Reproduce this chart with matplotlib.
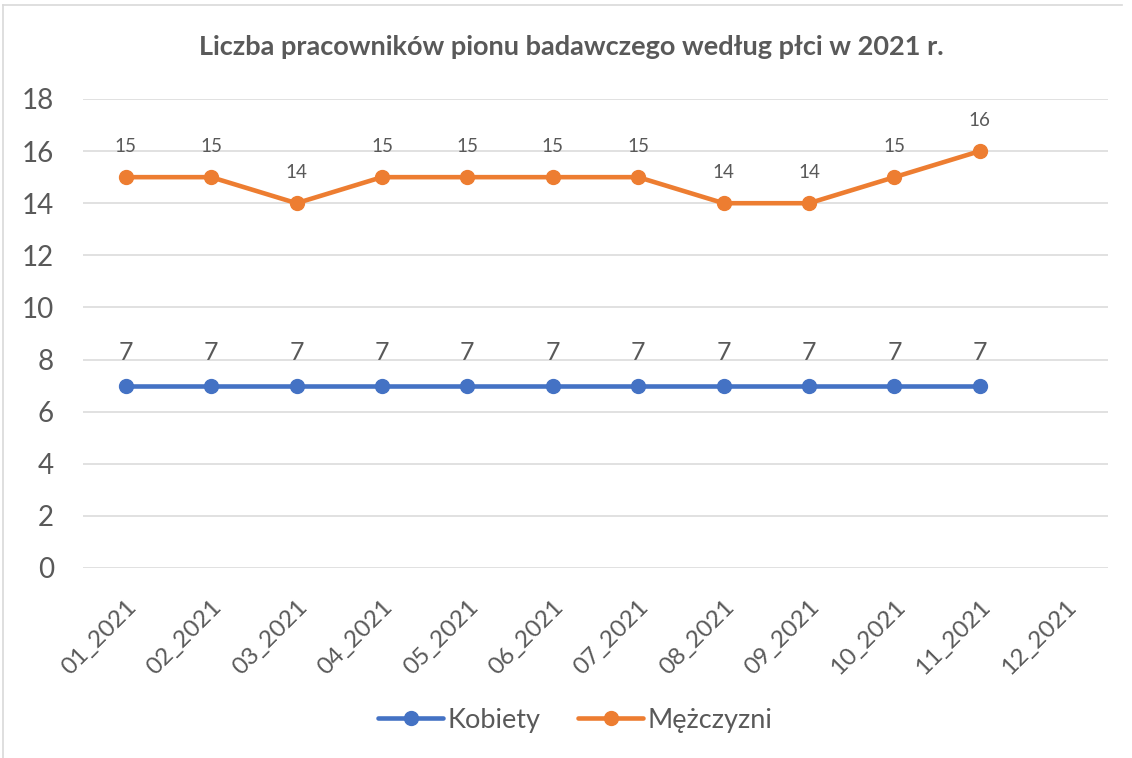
import matplotlib
matplotlib.use("Agg")
import matplotlib.pyplot as plt
from matplotlib.lines import Line2D

months = ["01_2021", "02_2021", "03_2021", "04_2021", "05_2021", "06_2021",
          "07_2021", "08_2021", "09_2021", "10_2021", "11_2021", "12_2021"]
kobiety = [7, 7, 7, 7, 7, 7, 7, 7, 7, 7, 7]
mezczyzni = [15, 15, 14, 15, 15, 15, 15, 14, 14, 15, 16]

BLUE = "#4472C4"
ORANGE = "#ED7D31"
GREY = "#595959"

plt.rcParams['font.family'] = ['Lato', 'DejaVu Sans']

fig = plt.figure(figsize=(11.32, 7.58), dpi=100)
ax = fig.add_axes([0.0733, 0.2507, 0.9055, 0.6187])

x = list(range(len(months)))
ax.plot(x[:len(kobiety)], kobiety, color=BLUE, lw=3.3, marker='o', ms=10,
        solid_capstyle='round', label="Kobiety", zorder=3)
ax.plot(x[:len(mezczyzni)], mezczyzni, color=ORANGE, lw=3.3, marker='o', ms=10,
        solid_capstyle='round', label="Mężczyzni", zorder=3)

for xi, v in zip(x, kobiety):
    ax.annotate(str(v), (xi, v), xytext=(0, 24), textcoords='offset points',
                ha='center', va='center', fontsize=18, color=GREY)
for xi, v in zip(x, mezczyzni):
    ax.annotate(str(v), (xi, v), xytext=(0, 22), textcoords='offset points',
                ha='center', va='center', fontsize=13.5, color=GREY)

ax.set_xlim(-0.5, len(months) - 0.5)
ax.set_ylim(0, 18)
ax.set_yticks(range(0, 19, 2))
ax.set_xticks(x)
ax.set_xticklabels(months, rotation=45, ha='right', rotation_mode='anchor')
ax.tick_params(axis='both', length=0, colors=GREY)
ax.tick_params(axis='y', labelsize=20, pad=21)
ax.tick_params(axis='x', labelsize=17.5, pad=20)
ax.grid(axis='y', color="#D9D9D9", lw=1.1)
ax.set_axisbelow(True)
for s in ax.spines.values():
    s.set_visible(False)

fig.text(0.505, 0.938, "Liczba pracowników pionu badawczego według płci w 2021 r.",
         ha='center', va='center', fontsize=19.5, fontweight='bold', color=GREY)

leg = fig.legend(loc='center', bbox_to_anchor=(0.508, 0.05), ncol=2,
                 frameon=False, fontsize=19.5, handlelength=2.4,
                 handletextpad=0.15, columnspacing=1.4)
for t in leg.get_texts():
    t.set_color(GREY)

# chart border (left and top visible)
fig.add_artist(Line2D([0.003, 0.003], [0, 0.994], transform=fig.transFigure,
                      color="#D9D9D9", lw=1.2))
fig.add_artist(Line2D([0.003, 0.991], [0.994, 0.994], transform=fig.transFigure,
                      color="#D9D9D9", lw=1.2))

fig.savefig("out.png", dpi=100)
